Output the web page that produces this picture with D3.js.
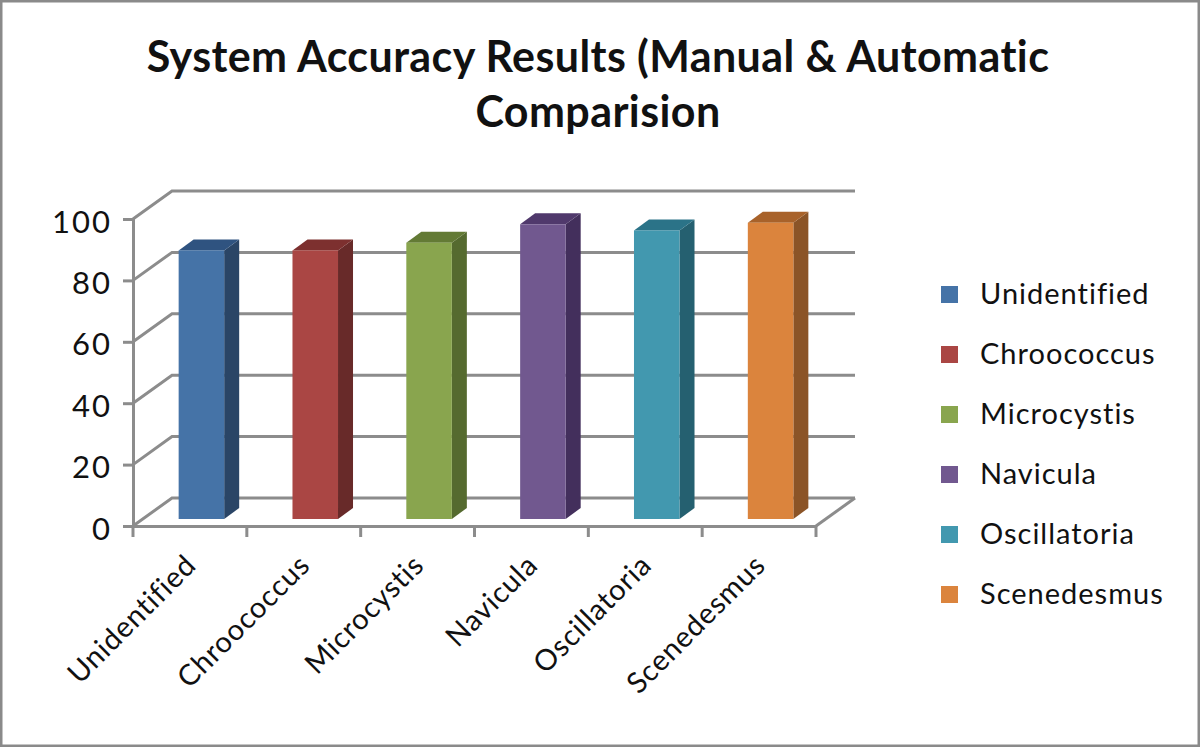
<!DOCTYPE html>
<html>
<head>
<meta charset="utf-8">
<script src="https://cdn.jsdelivr.net/npm/d3@7"></script>
<style>
  html, body { margin: 0; padding: 0; background: #fff; }
  text { font-family: Lato, "Open Sans", sans-serif; fill: #111; font-variant-ligatures: none; }
</style>
</head>
<body>
<svg id="chart" width="1200" height="747"></svg>
<script>
const categories = ["Unidentified", "Chroococcus", "Microcystis", "Navicula", "Oscillatoria", "Scenedesmus"];
const accuracy = [87.5, 87.5, 90, 96, 94, 96.5];
const faceColors = ["#4573a7", "#aa4644", "#89a54e", "#71588f", "#4298af", "#db843d"];
const topColors = ["#2f5380", "#7d302f", "#637a35", "#50396c", "#2b7388", "#a8622a"];
const sideColors = ["#2a4566", "#682a29", "#556a2f", "#432f5c", "#256070", "#8b5427"];
const yTicks = [0, 20, 40, 60, 80, 100];
const titleLines = ["System Accuracy Results (Manual & Automatic", "Comparision"];

const svg = d3.select("#chart");
const gridColor = "#8c8c8c";

// cadre
svg.append("rect")
    .attr("x", 1).attr("y", 1)
    .attr("width", 1198).attr("height", 745)
    .attr("fill", "#fff")
    .attr("stroke", "#8a8a8a")
    .attr("stroke-width", 3);

// titre
svg.selectAll(".title")
    .data(titleLines)
    .join("text")
    .attr("class", "title")
    .attr("x", 598)
    .attr("y", (d, i) => 72 + i * 55)
    .attr("text-anchor", "middle")
    .attr("font-size", 43)
    .attr("font-weight", 700)
    .style("letter-spacing", "0.4px")
    .text(d => d);

const x = d3.scaleBand().domain(categories).range([133, 816]);
const y = d3.scaleLinear().domain([0, 100]).range([526, 219]);

// profondeur du plan 3d
const backDx = 39, backDy = -28;
const barShiftX = 11.5, barShiftY = -7;
const depthX = 15, depthY = -11;
const barW = x.bandwidth() * 0.4;

// grille: mur du fond + paroi gauche
const grid = svg.append("g")
    .attr("fill", "none")
    .attr("stroke", gridColor)
    .attr("stroke-width", 3);

grid.selectAll(".back")
    .data(yTicks)
    .join("path")
    .attr("class", "back")
    .attr("d", d => `M${133},${y(d)} L${133 + backDx},${y(d) + backDy} L${816 + backDx},${y(d) + backDy}`);

// sol, bord avant
grid.append("path")
    .attr("d", `M816,${y(0)} L${816 + backDx},${y(0) + backDy}`);

// axes
const yAxis = svg.append("g")
    .attr("transform", "translate(133,0)")
    .call(d3.axisLeft(y).tickValues(yTicks).tickSize(10).tickPadding(11));
yAxis.selectAll("text")
    .attr("font-size", 31)
    .attr("dy", "0.42em")
    .style("font-family", "Lato, sans-serif")
    .style("letter-spacing", "2px");

const xAxis = svg.append("g")
    .attr("transform", `translate(0,${y(0)})`)
    .call(d3.axisBottom(x).tickSize(0).tickFormat(""));
xAxis.selectAll(".tick").remove();
xAxis.selectAll(".edge")
    .data(d3.range(categories.length + 1))
    .join("line")
    .attr("class", "edge")
    .attr("x1", i => 133 + i * x.step())
    .attr("x2", i => 133 + i * x.step())
    .attr("y1", 0)
    .attr("y2", 11)
    .attr("stroke", gridColor)
    .attr("stroke-width", 3);

svg.selectAll(".domain, .tick line")
    .attr("stroke", gridColor)
    .attr("stroke-width", 3);

// barres
const bars = svg.selectAll(".bar")
    .data(categories)
    .join("g")
    .attr("class", "bar");

const left = d => x(d) + (x.bandwidth() - barW) / 2 + barShiftX;
const base = y(0) + barShiftY;
const topY = (d, i) => y(accuracy[i]) + barShiftY;

bars.append("path")
    .attr("fill", (d, i) => sideColors[i])
    .attr("d", (d, i) => {
        const r = left(d) + barW;
        return `M${r},${topY(d, i)} L${r + depthX},${topY(d, i) + depthY} L${r + depthX},${base + depthY} L${r},${base} Z`;
    });

bars.append("path")
    .attr("fill", (d, i) => topColors[i])
    .attr("d", (d, i) => {
        const l = left(d), r = l + barW, t = topY(d, i);
        return `M${l},${t} L${l + depthX},${t + depthY} L${r + depthX},${t + depthY} L${r},${t} Z`;
    });

bars.append("rect")
    .attr("fill", (d, i) => faceColors[i])
    .attr("x", left)
    .attr("y", topY)
    .attr("width", barW)
    .attr("height", (d, i) => base - topY(d, i));

// etiquettes x
svg.selectAll(".xlabel")
    .data(categories)
    .join("text")
    .attr("class", "xlabel")
    .attr("text-anchor", "end")
    .attr("font-size", 29)
    .style("letter-spacing", "0.8px")
    .attr("transform", d => `translate(${x(d) + x.bandwidth() / 2 + 8},${567}) rotate(-45)`)
    .text(d => d);

// legende
const legendY = d3.scalePoint().domain(categories).range([294, 594]);

svg.selectAll(".swatch")
    .data(categories)
    .join("rect")
    .attr("class", "swatch")
    .attr("x", 941)
    .attr("y", d => legendY(d) - 8)
    .attr("width", 17)
    .attr("height", 17)
    .attr("fill", (d, i) => faceColors[i]);

svg.selectAll(".legend")
    .data(categories)
    .join("text")
    .attr("class", "legend")
    .attr("x", 980)
    .attr("y", d => legendY(d) + 10)
    .attr("font-size", 29)
    .style("letter-spacing", "1px")
    .text(d => d);
</script>
</body>
</html>
